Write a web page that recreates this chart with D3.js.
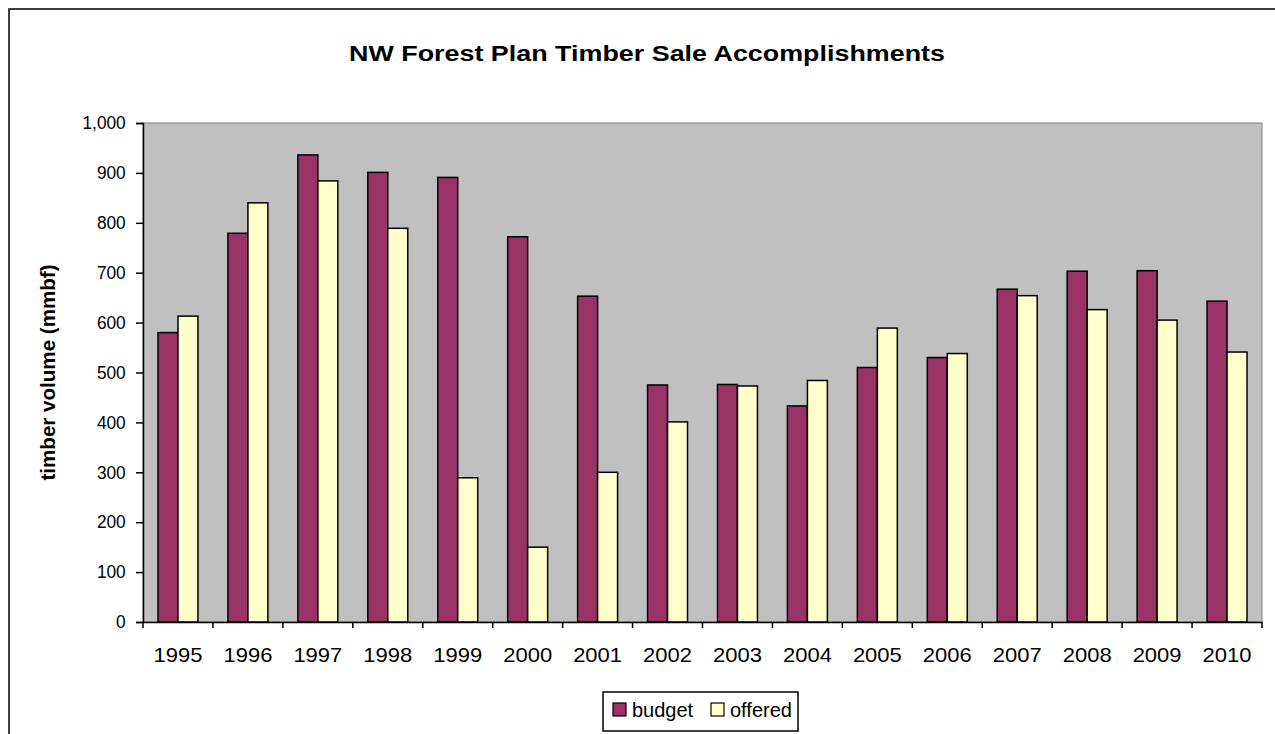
<!DOCTYPE html>
<html>
<head>
<meta charset="utf-8">
<script src="https://cdn.jsdelivr.net/npm/d3@7"></script>
<style>
  html, body { margin: 0; padding: 0; background: #fff; }
  svg { display: block; font-family: "Liberation Sans", Arial, sans-serif; }
</style>
</head>
<body>
<svg id="chart" width="1275" height="734"></svg>
<script>
const years = ["1995","1996","1997","1998","1999","2000","2001","2002","2003","2004","2005","2006","2007","2008","2009","2010"];
const budget = [580, 779, 936, 901, 891, 772, 653, 475, 476, 433, 510, 530, 667, 703, 704, 643];
const offered = [613, 840, 884, 789, 289, 150, 300, 401, 473, 484, 589, 538, 654, 626, 605, 541];
const seriesNames = ["budget", "offered"];
const seriesColors = ["#993366", "#FFFFCC"];
const yTicks = [0, 100, 200, 300, 400, 500, 600, 700, 800, 900, 1000];

(function () {
const FONT = "'Liberation Sans', Arial, sans-serif";
const svg = d3.select("#chart");

// outer chart frame (extends beyond viewport on right/bottom)
svg.append("rect").attr("x", 9).attr("y", 9).attr("width", 1300).attr("height", 800)
  .attr("fill", "#fff").attr("stroke", "#000").attr("stroke-width", 1.5);

const pL = 143, pR = 1262, pT = 123, pB = 622;

const x = d3.scaleBand().domain(years).range([pL, pR]).paddingInner(0).paddingOuter(0);
const y = d3.scaleLinear().domain([0, 1000]).range([pB, pT]);
const inner = d3.scaleBand().domain(seriesNames).range([0, x.bandwidth()]).paddingInner(0).paddingOuter(0.75);

// plot area
svg.append("rect").attr("x", pL).attr("y", pT).attr("width", pR - pL).attr("height", pB - pT)
  .attr("fill", "#C0C0C0").attr("stroke", "#808080").attr("stroke-width", 1);

// bars
const data = years.map((yr, i) => ({ yr, vals: [budget[i], offered[i]] }));
const groups = svg.append("g").selectAll("g").data(data).join("g")
  .attr("transform", d => `translate(${x(d.yr)},0)`);
groups.selectAll("rect").data(d => d.vals.map((v, j) => ({ v, s: seriesNames[j], c: seriesColors[j] })))
  .join("rect")
  .attr("x", d => inner(d.s))
  .attr("width", inner.bandwidth())
  .attr("y", d => y(d.v))
  .attr("height", d => pB - y(d.v))
  .attr("fill", d => d.c)
  .attr("stroke", "#000").attr("stroke-width", 1.5);

// y axis
const yAxis = svg.append("g").attr("transform", `translate(${pL},0)`)
  .call(d3.axisLeft(y).tickValues(yTicks).tickSize(7).tickPadding(11).tickFormat(d3.format(",")));
yAxis.select(".domain").attr("stroke", "#000").attr("stroke-width", 1.5);
yAxis.selectAll(".tick line").attr("stroke", "#000").attr("stroke-width", 1.5);
yAxis.selectAll("text").attr("font-size", 18).attr("fill", "#000")
  .attr("font-family", FONT).attr("transform", "scale(0.96,1)");

// x axis
const xAxis = svg.append("g").attr("transform", `translate(0,${pB})`)
  .call(d3.axisBottom(x).tickSize(0).tickPadding(26));
xAxis.select(".domain").attr("stroke", "#000").attr("stroke-width", 1.5);
xAxis.selectAll("text").attr("font-size", 20).attr("fill", "#000")
  .attr("font-family", FONT).attr("transform", "scale(1.1,1)");
// category boundary ticks
const bounds = years.map(d => x(d)).concat([pR]);
svg.append("g").selectAll("line").data(bounds).join("line")
  .attr("x1", d => d).attr("x2", d => d).attr("y1", pB).attr("y2", pB + 6)
  .attr("stroke", "#000").attr("stroke-width", 1.5);

// title
svg.append("text").attr("x", 647).attr("y", 61).attr("text-anchor", "middle")
  .attr("font-size", 22).attr("font-weight", "bold")
  .attr("textLength", 596).attr("lengthAdjust", "spacingAndGlyphs")
  .text("NW Forest Plan Timber Sale Accomplishments");

// y title
svg.append("text").attr("transform", `translate(55,${(pT + pB) / 2}) rotate(-90)`)
  .attr("text-anchor", "middle").attr("font-size", 20).attr("font-weight", "bold")
  .attr("textLength", 216).attr("lengthAdjust", "spacingAndGlyphs")
  .text("timber volume (mmbf)");

// legend
const lg = svg.append("g");
lg.append("rect").attr("x", 603).attr("y", 692).attr("width", 195).attr("height", 39)
  .attr("fill", "#fff").attr("stroke", "#000").attr("stroke-width", 1.5);
const legendX = [613, 711];
seriesNames.forEach((s, i) => {
  lg.append("rect").attr("x", legendX[i]).attr("y", 703).attr("width", 13).attr("height", 13)
    .attr("fill", seriesColors[i]).attr("stroke", "#000").attr("stroke-width", 1.2);
  lg.append("text").attr("x", legendX[i] + 19).attr("y", 717).attr("font-size", 20).text(s);
});
})();
</script>
</body>
</html>
